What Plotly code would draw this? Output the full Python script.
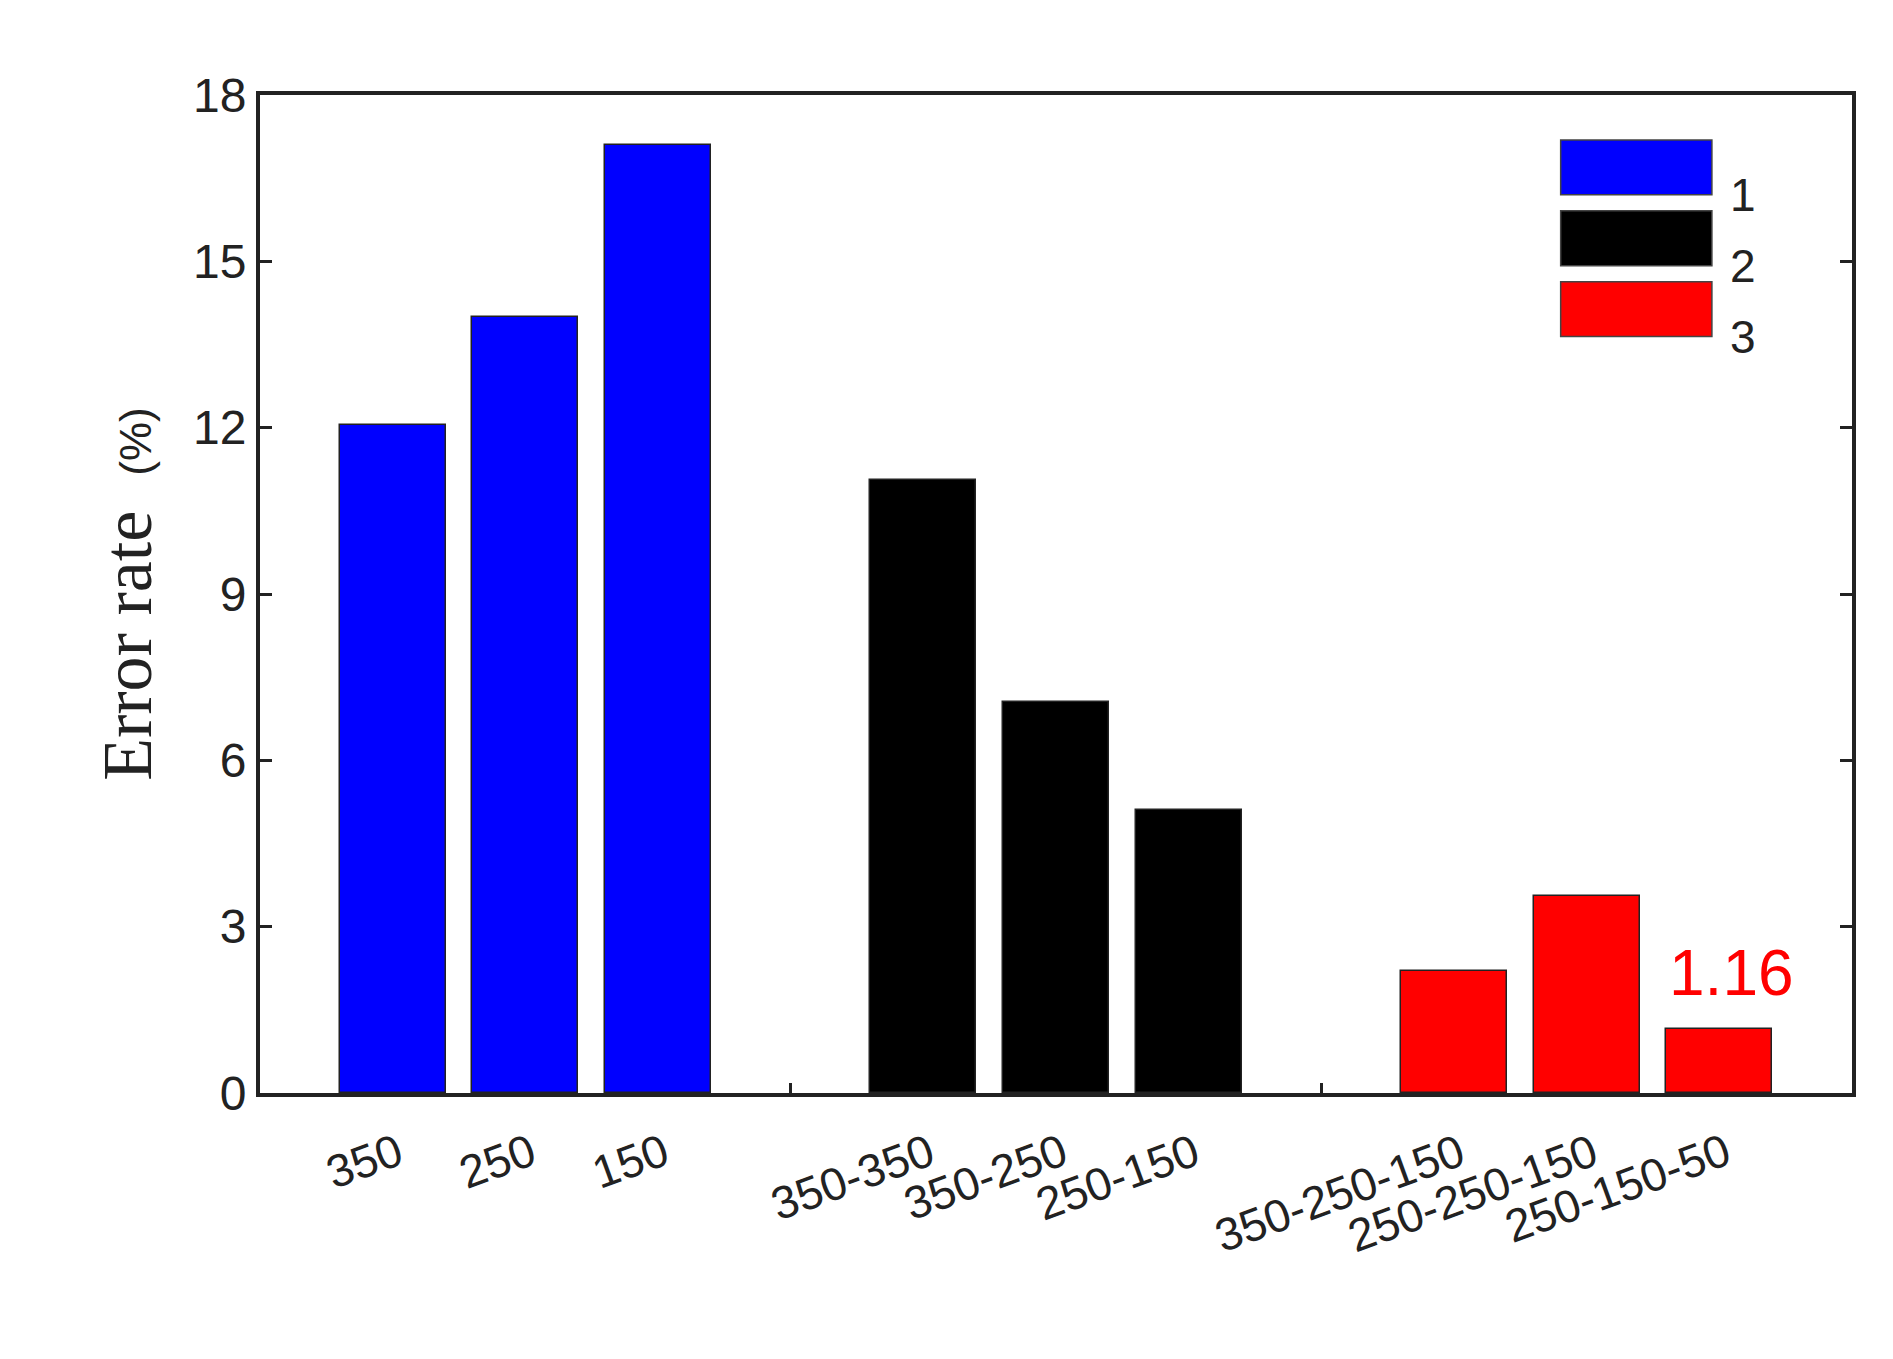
import plotly.graph_objects as go

labels = ["350", "250", "150", "350-350", "350-250", "250-150",
          "350-250-150", "250-250-150", "250-150-50"]
positions = [1, 2, 3, 5, 6, 7, 9, 10, 11]
values = [12.05, 14.0, 17.1, 11.05, 7.05, 5.1, 2.2, 3.55, 1.16]
groups = ["1", "1", "1", "2", "2", "2", "3", "3", "3"]
group_names = ["1", "2", "3"]
group_colors = ["#0000ff", "#000000", "#ff0000"]

fig = go.Figure()
for g, c in zip(group_names, group_colors):
    xs = [p for p, gg in zip(positions, groups) if gg == g]
    ys = [v for v, gg in zip(values, groups) if gg == g]
    fig.add_trace(go.Bar(x=xs, y=ys, width=0.8, marker=dict(color=c, line=dict(color="#222", width=1.5)),
                         name=g, showlegend=False))

# value annotation
fig.add_annotation(x=positions[-1], y=values[-1], text=f"{values[-1]:.2f}", showarrow=False,
                   yanchor="bottom", yshift=18, xshift=12,
                   font=dict(family="Arial, Liberation Sans", size=64, color="#ff0000"))

# custom legend with large swatches
for i, (g, c) in enumerate(zip(group_names, group_colors)):
    y0 = 0.955 - i * 0.071
    fig.add_shape(type="rect", xref="paper", yref="paper", x0=0.817, x1=0.912, y0=y0 - 0.055, y1=y0,
                  fillcolor=c, line=dict(color="#444", width=1.5))
    fig.add_annotation(xref="paper", yref="paper", x=0.922, y=y0 - 0.0275, text=g, showarrow=False,
                       xanchor="left", font=dict(family="Arial, Liberation Sans", size=46, color="#222"))

# rotated category labels
for p, l in zip(positions, labels):
    fig.add_annotation(x=p + 0.15, y=0, yref="y", text=l, showarrow=False, textangle=-20,
                       xanchor="right", yanchor="top", yshift=-28,
                       font=dict(family="Arial, Liberation Sans", size=46, color="#222"))

fig.update_layout(
    width=1893, height=1359, plot_bgcolor="white", paper_bgcolor="white",
    margin=dict(l=252, r=49, t=87, b=274),
    bargap=0,
    xaxis=dict(range=[0, 12], showticklabels=False, tickvals=[0, 4, 8, 12], ticks="inside", ticklen=10,
               tickwidth=3, tickcolor="#222",
               showline=True, linewidth=4, linecolor="#222", mirror=True, showgrid=False, zeroline=False),
    yaxis=dict(range=[0, 18], dtick=3, ticks="inside", ticklen=12, tickwidth=3, tickcolor="#222",
               showline=True, linewidth=4, linecolor="#222", mirror="allticks", showgrid=False, zeroline=False,
               tickfont=dict(family="Arial, Liberation Sans", size=48, color="#222"),
               title=dict(text="Error rate  <span style='font-family:Arial, Liberation Sans;font-size:44px'>(%)</span>",
                          font=dict(family="Liberation Serif, DejaVu Serif", size=70, color="#222"), standoff=20)),
)

fig.write_html("out.html")
